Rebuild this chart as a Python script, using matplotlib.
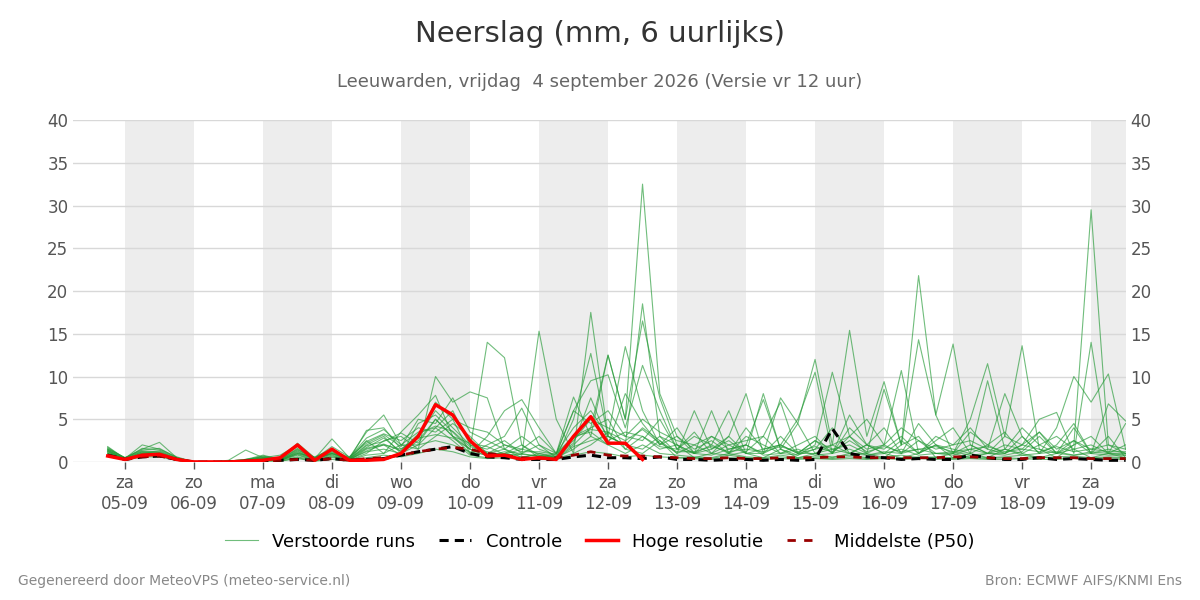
import matplotlib
matplotlib.use("Agg")
import matplotlib.pyplot as plt
import numpy as np

day_labels = ["za\n05-09","zo\n06-09","ma\n07-09","di\n08-09","wo\n09-09","do\n10-09","vr\n11-09",
              "za\n12-09","zo\n13-09","ma\n14-09","di\n15-09","wo\n16-09","do\n17-09","vr\n18-09","za\n19-09"]

hoge = [0.7,0.3,0.8,0.9,0.3,0.0,0.0,0.0,0.1,0.2,0.5,2.0,0.2,1.5,0.2,0.2,0.3,1.0,3.0,6.7,5.5,2.5,0.7,0.8,0.3,0.5,0.3,3.0,5.3,2.2,2.2,0.3]
controle = [0.8,0.3,0.6,0.7,0.3,0.0,0.0,0.0,0.1,0.1,0.2,0.3,0.2,0.4,0.2,0.3,0.4,0.8,1.2,1.5,1.8,1.0,0.6,0.5,0.3,0.3,0.3,0.6,0.8,0.5,0.5,0.4,0.6,0.3,0.3,0.2,0.3,0.3,0.2,0.3,0.2,0.3,3.9,1.0,0.6,0.5,0.3,0.4,0.3,0.3,0.8,0.5,0.3,0.3,0.5,0.3,0.4,0.3,0.2,0.2]
p50 = [0.8,0.3,0.6,0.7,0.3,0.0,0.0,0.0,0.1,0.1,0.2,0.3,0.2,0.4,0.2,0.4,0.5,0.8,1.2,1.5,1.7,1.5,1.0,0.8,0.5,0.4,0.5,0.8,1.2,0.8,0.7,0.7,0.6,0.5,0.4,0.4,0.5,0.4,0.4,0.5,0.5,0.5,0.6,0.6,0.5,0.5,0.5,0.5,0.5,0.6,0.6,0.5,0.4,0.4,0.5,0.5,0.5,0.4,0.4,0.4]

runs = [
 [1.8,0.4,2.0,1.5,0.6,0.0,0.0,0.1,0.3,0.8,0.3,2.2,0.5,1.0,0.3,2.5,1.0,3.5,5.5,7.8,3.0,1.5,14.0,12.2,2.0,0.5,1.0,3.0,4.0,12.5,5.0,32.5,8.0,3.0,1.0,2.0,6.0,1.0,8.0,1.5,0.8,2.0,10.5,3.0,1.0,0.5,2.0,21.8,5.5,13.8,2.0,1.0,3.0,13.6,1.5,0.5,2.0,29.5,2.0,1.0],
 [1.5,0.5,1.5,2.3,0.5,0.0,0.0,0.2,1.4,0.5,0.8,2.0,0.4,2.7,0.5,3.5,5.5,2.0,1.5,10.0,7.0,8.2,7.5,1.5,0.8,15.3,5.0,1.0,17.5,3.0,2.0,18.5,3.0,1.0,6.0,1.5,3.0,8.0,1.0,7.5,4.5,12.0,2.0,15.4,3.0,9.4,2.0,14.3,5.5,1.0,5.0,11.5,3.0,2.0,5.0,5.8,1.0,14.0,1.0,4.5],
 [1.2,0.3,1.0,1.0,0.4,0.0,0.0,0.1,0.2,0.5,0.2,1.0,0.6,1.5,0.3,3.7,4.0,1.5,3.0,7.0,5.0,1.0,3.0,6.0,7.3,4.0,1.0,7.6,3.0,12.5,5.0,16.5,7.5,2.0,1.0,3.0,2.0,2.5,3.0,7.0,1.0,2.5,1.0,3.0,5.0,2.0,10.7,1.0,3.0,2.0,4.0,1.5,8.0,3.0,1.0,4.0,10.0,7.0,10.3,1.5],
 [1.0,0.4,1.2,1.0,0.3,0.0,0.0,0.0,0.2,0.4,0.3,1.5,0.3,1.0,0.4,2.0,3.0,1.0,2.5,5.0,3.0,1.0,2.0,3.0,6.3,2.0,0.5,5.0,12.7,3.0,13.5,6.0,2.0,4.0,1.0,6.0,1.0,2.0,1.0,2.0,5.0,10.5,1.0,4.0,2.0,4.0,1.0,4.5,2.0,1.5,1.0,9.5,1.5,4.0,2.0,1.0,4.0,1.0,6.8,4.8],
 [1.4,0.3,0.8,1.1,0.3,0.0,0.0,0.1,0.1,0.3,0.2,1.0,0.3,0.8,0.2,1.5,2.0,0.8,4.5,5.5,3.5,1.5,1.0,2.0,1.5,3.0,1.0,6.0,9.5,10.2,4.0,11.3,6.0,1.5,3.0,2.0,1.0,4.0,1.5,2.0,1.0,2.5,1.5,2.0,1.0,8.5,2.0,3.0,0.5,1.0,3.5,2.0,1.0,3.0,1.0,2.0,4.5,1.0,3.0,0.5],
 [1.6,0.5,1.3,1.2,0.4,0.0,0.0,0.1,0.3,0.6,0.4,1.8,0.5,1.3,0.5,2.8,3.8,2.0,2.0,4.0,6.0,2.0,1.5,2.5,1.0,2.0,1.0,4.0,6.0,3.0,2.0,4.0,2.5,1.0,2.0,1.0,3.0,1.0,1.0,3.0,1.0,1.5,2.0,1.0,2.0,1.0,2.5,1.0,2.0,1.0,0.5,1.0,2.0,1.5,3.5,1.0,2.0,3.0,1.0,1.0],
 [1.3,0.4,1.0,1.0,0.3,0.0,0.0,0.0,0.2,0.3,0.2,0.8,0.2,1.2,0.2,1.0,2.5,3.0,1.5,3.0,4.5,3.0,1.0,1.5,0.5,1.0,0.5,2.0,4.0,5.0,1.5,3.0,1.5,2.0,0.5,1.0,2.0,1.0,0.5,1.5,0.5,1.0,0.5,1.0,2.0,1.0,0.5,1.0,2.0,0.5,1.0,0.5,1.5,1.0,0.5,1.0,1.5,0.5,1.0,0.5],
 [1.1,0.3,0.9,0.9,0.3,0.0,0.0,0.0,0.1,0.2,0.2,0.6,0.2,0.5,0.3,1.2,1.5,1.0,2.0,2.5,2.0,1.2,0.8,1.0,0.6,0.8,0.5,1.5,3.0,2.0,1.0,2.0,1.0,0.8,0.6,0.5,1.0,0.6,0.5,0.8,0.5,0.7,0.6,0.8,0.5,0.6,0.8,0.5,0.6,0.5,0.7,0.5,0.6,0.8,0.5,0.6,0.7,0.5,0.6,0.5],
 [0.9,0.2,0.7,0.8,0.2,0.0,0.0,0.0,0.1,0.2,0.1,0.5,0.1,0.6,0.2,0.8,1.0,2.0,3.5,4.0,2.5,0.8,0.5,0.7,0.3,0.5,0.4,1.0,2.0,3.5,1.5,1.0,2.5,0.5,0.5,0.4,0.8,0.5,0.4,0.6,0.4,0.5,0.4,0.6,0.4,0.5,0.4,0.6,0.5,0.4,0.5,0.4,0.5,0.4,0.6,0.4,0.5,0.4,0.5,0.4],
 [1.7,0.4,1.6,1.4,0.5,0.0,0.0,0.1,0.2,0.7,0.3,1.6,0.4,1.8,0.6,2.2,3.2,1.8,5.0,4.5,7.5,3.5,2.5,1.5,3.0,1.5,0.8,3.0,3.5,2.0,8.0,4.5,2.0,3.0,1.5,2.5,1.0,3.0,2.0,1.0,2.0,3.0,1.0,5.5,2.0,1.5,3.0,1.0,2.5,4.0,1.0,2.0,3.5,1.0,2.0,3.0,1.5,2.0,1.0,2.0],
 [1.2,0.3,1.1,1.3,0.4,0.0,0.0,0.0,0.2,0.4,0.2,1.3,0.3,1.1,0.4,1.7,2.8,1.2,3.0,6.0,4.0,2.0,1.0,1.0,2.0,0.8,0.6,2.5,5.0,4.0,3.0,2.5,5.0,1.5,1.0,1.5,2.5,1.0,1.5,2.0,1.0,1.0,1.5,1.0,1.0,2.0,1.0,1.5,1.0,1.0,2.0,1.0,1.0,2.0,1.5,1.0,2.5,1.0,1.5,1.0],
 [1.0,0.3,0.8,0.7,0.2,0.0,0.0,0.0,0.1,0.3,0.2,0.9,0.2,0.7,0.3,1.3,2.0,1.5,2.8,3.2,2.8,1.5,0.7,1.2,1.0,0.6,0.4,1.8,2.5,3.0,2.0,1.5,3.0,2.0,1.0,0.8,1.5,2.0,0.8,1.0,1.5,0.8,1.0,1.5,0.8,1.0,1.5,0.8,1.0,1.2,0.8,1.0,1.5,0.8,1.0,1.2,0.8,1.0,0.8,0.8],
 [1.4,0.4,1.2,1.0,0.3,0.0,0.0,0.1,0.2,0.5,0.3,1.1,0.4,0.9,0.3,1.9,2.4,3.4,2.2,5.0,3.0,2.2,1.8,0.9,1.5,1.0,0.7,2.2,7.5,2.5,3.5,3.0,1.8,1.5,3.5,1.0,0.8,1.2,3.0,1.0,0.8,1.5,4.0,1.0,0.8,1.2,1.0,2.5,1.0,0.8,1.5,1.0,0.8,1.2,3.0,1.0,0.8,1.2,1.0,0.8],
 [0.8,0.2,0.6,0.6,0.2,0.0,0.0,0.0,0.0,0.1,0.1,0.4,0.1,0.3,0.1,0.5,0.8,0.6,1.0,1.5,1.2,0.6,0.4,0.5,0.3,0.4,0.3,0.8,1.2,1.0,0.6,0.8,0.6,0.5,0.4,0.3,0.5,0.4,0.3,0.4,0.3,0.4,0.3,0.4,0.3,0.4,0.3,0.4,0.3,0.3,0.4,0.3,0.3,0.4,0.3,0.3,0.4,0.3,0.3,0.3],
 [1.5,0.5,1.4,1.6,0.5,0.0,0.0,0.1,0.3,0.6,0.3,1.4,0.5,1.4,0.5,2.4,3.3,2.5,4.0,3.5,5.0,4.0,3.5,2.0,1.2,1.2,0.9,6.0,4.5,6.0,3.0,5.0,3.5,2.5,2.0,3.0,1.5,2.0,7.3,1.5,4.5,1.0,2.0,3.0,1.5,2.0,4.0,2.5,1.5,2.0,2.5,1.5,1.0,2.0,3.5,1.5,2.5,1.5,2.0,1.5],
 [1.3,0.3,1.0,1.1,0.4,0.0,0.0,0.0,0.2,0.4,0.2,1.2,0.3,1.0,0.3,1.6,2.1,1.3,3.3,4.2,3.6,1.8,1.2,0.8,0.9,0.7,0.5,2.8,3.8,3.5,2.5,3.8,2.2,1.2,1.2,1.8,1.2,1.5,1.2,1.8,1.2,1.8,1.2,2.5,1.2,1.8,1.2,1.5,1.8,1.2,1.5,1.8,1.2,1.5,1.2,1.8,1.2,1.5,1.2,1.2],
]

N = 60
t0 = np.datetime64("2026-09-04T18")
times = t0 + np.arange(N) * np.timedelta64(6, "h")
def days(ts):
    return (ts - np.datetime64("2026-09-05T00")) / np.timedelta64(1, "D")
x = days(times)

fig = plt.figure(figsize=(12, 6), dpi=100)
ax = fig.add_axes([0.061, 0.23, 0.877, 0.57])

for d in range(0, 15, 2):
    ax.axvspan(d, d + 1, color="#ededed", lw=0, zorder=0)

for r in runs:
    r = (list(r) + [0.0] * N)[:N]
    ax.plot(x, r, color="#249a36", lw=0.8, alpha=0.65, zorder=2)
ax.plot([], [], color="#249a36", lw=0.8, alpha=0.65, label="Verstoorde runs")
ax.plot(x[:len(controle)], controle, color="black", lw=2.2, ls=(0, (3, 2)), zorder=4, label="Controle")
ax.plot(x[:len(hoge)], hoge, color="#ff0000", lw=2.5, zorder=5, label="Hoge resolutie")
ax.plot(x[:len(p50)], p50, color="#990000", lw=2, ls=(0, (3, 3)), zorder=4, label="Middelste (P50)")

ax.set_xlim(-0.75, 14.5)
ax.set_ylim(0, 40)
ax.set_yticks(range(0, 41, 5))
ax.set_xticks(range(15))
ax.set_xticklabels(day_labels)
ax.grid(axis="y", color="#d8d8d8", lw=1)
ax.set_axisbelow(True)
for s in ax.spines.values():
    s.set_visible(False)
ax.tick_params(axis="y", length=0, labelsize=12, colors="#555555", labelright=True, right=False)
ax.tick_params(axis="x", length=5, labelsize=12, colors="#555555", width=1)

fig.text(0.5, 0.93, "Neerslag (mm, 6 uurlijks)", ha="center", fontsize=21, color="#333333")
fig.text(0.5, 0.855, "Leeuwarden, vrijdag  4 september 2026 (Versie vr 12 uur)", ha="center", fontsize=13, color="#666666")
fig.legend(loc="center", bbox_to_anchor=(0.5, 0.097), ncol=4, frameon=False, fontsize=13, handlelength=1.8, columnspacing=1.3, handletextpad=0.8)
fig.text(0.015, 0.025, "Gegenereerd door MeteoVPS (meteo-service.nl)", fontsize=10, color="#888888")
fig.text(0.985, 0.025, "Bron: ECMWF AIFS/KNMI Ens", fontsize=10, color="#888888", ha="right")

fig.savefig("out.png", dpi=100)
